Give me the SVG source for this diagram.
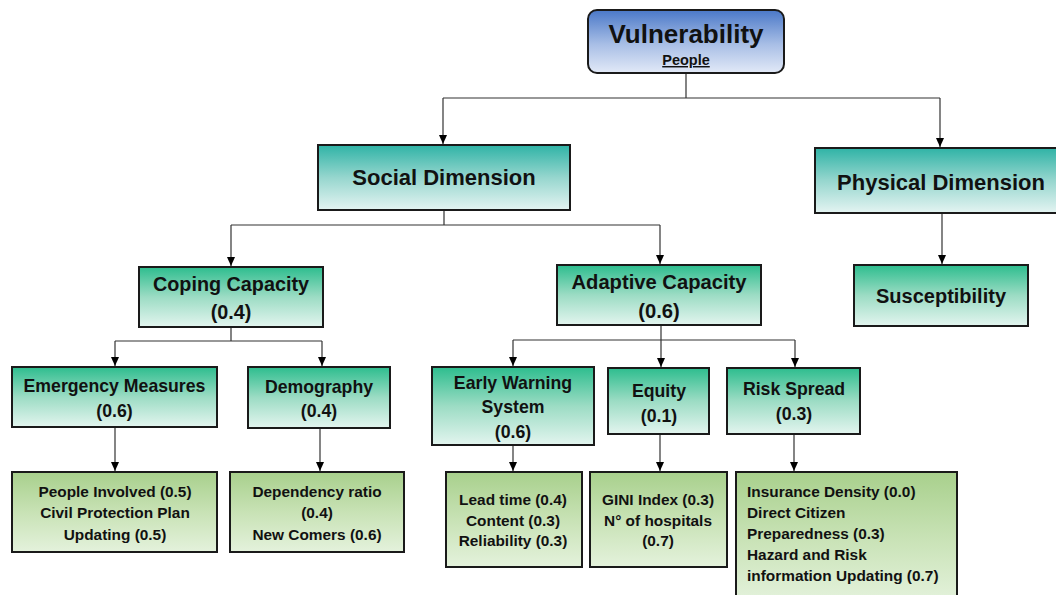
<svg xmlns="http://www.w3.org/2000/svg" width="1056" height="595" viewBox="0 0 1056 595">
<defs>
<linearGradient id="gBlue" x1="0" y1="0" x2="0" y2="1">
<stop offset="0" stop-color="#4a78c8"/><stop offset="0.55" stop-color="#a9bfe6"/><stop offset="1" stop-color="#e2e9f7"/>
</linearGradient>
<linearGradient id="gTeal" x1="0" y1="0" x2="0" y2="1">
<stop offset="0" stop-color="#2fb3a6"/><stop offset="0.5" stop-color="#96d6ce"/><stop offset="1" stop-color="#e4f4f2"/>
</linearGradient>
<linearGradient id="gGreen" x1="0" y1="0" x2="0" y2="1">
<stop offset="0" stop-color="#2dbd8e"/><stop offset="0.5" stop-color="#9cdcc4"/><stop offset="1" stop-color="#e3f5ef"/>
</linearGradient>
<linearGradient id="gLeaf" x1="0" y1="0" x2="0" y2="1">
<stop offset="0" stop-color="#a8d08c"/><stop offset="0.5" stop-color="#c8e2b5"/><stop offset="1" stop-color="#e4f2dc"/>
</linearGradient>
<marker id="arr" markerWidth="10" markerHeight="10" refX="9" refY="5" orient="auto" markerUnits="userSpaceOnUse">
<path d="M0,1 L9,5 L0,9 Z" fill="#000"/>
</marker>
</defs>
<style>
.box{stroke:#1a1a1a;stroke-width:2}
.t{font-family:"Liberation Sans",Arial,sans-serif;font-weight:bold;fill:#111;text-anchor:middle}
.tl{font-family:"Liberation Sans",Arial,sans-serif;font-weight:bold;fill:#111;font-size:15.4px}
.l1{font-size:22px}
.l2{font-size:19.8px}
.l3{font-size:17.7px}
.l4{font-size:15.4px}
.c{fill:none;stroke:#333;stroke-width:1.2}
.a{marker-end:url(#arr)}
</style>
<rect width="1056" height="595" fill="#fff"/>

<g id="connectors">
<path class="c" d="M686,73 V98 M443,98 H940"/>
<path class="c a" d="M443,98 V144"/>
<path class="c a" d="M940,98 V147"/>
<path class="c" d="M444,210 V225 M231,225 H660"/>
<path class="c a" d="M231,225 V266"/>
<path class="c a" d="M660,225 V264"/>
<path class="c" d="M231,327 V341 M115,341 H322"/>
<path class="c a" d="M115,341 V366"/>
<path class="c a" d="M322,341 V366"/>
<path class="c a" d="M115,427 V471"/>
<path class="c a" d="M320,428 V471"/>
<path class="c" d="M513,340 H795"/>
<path class="c a" d="M661,325 V367"/>
<path class="c a" d="M513,340 V366"/>
<path class="c a" d="M795,340 V367"/>
<path class="c a" d="M513,445 V471"/>
<path class="c a" d="M660,434 V471"/>
<path class="c a" d="M794,434 V471"/>
<path class="c a" d="M942,213 V264"/>
</g>

<g id="vulnerability">
<rect class="box" x="588" y="10" width="196" height="63" rx="9" fill="url(#gBlue)"/>
<text class="t" x="686" y="43" font-size="26">Vulnerability</text>
<text class="t" x="686" y="65" font-size="14.5" text-decoration="underline">People</text>
</g>

<g id="social">
<rect class="box" x="318" y="145" width="252" height="65" fill="url(#gTeal)"/>
<text class="t l1" x="444" y="185">Social Dimension</text>
</g>

<g id="physical">
<rect class="box" x="815" y="148" width="245" height="65" fill="url(#gTeal)"/>
<text class="t l1" x="941" y="190">Physical Dimension</text>
</g>

<g id="coping">
<rect class="box" x="139" y="267" width="184" height="60" fill="url(#gGreen)"/>
<text class="t l2" x="231" y="291">Coping Capacity</text>
<text class="t l2" x="231" y="319">(0.4)</text>
</g>

<g id="adaptive">
<rect class="box" x="557" y="265" width="204" height="60" fill="url(#gGreen)"/>
<text class="t" x="659" y="289" font-size="20.2">Adaptive Capacity</text>
<text class="t" x="659" y="318" font-size="20.2">(0.6)</text>
</g>

<g id="susceptibility">
<rect class="box" x="854" y="265" width="174" height="61" fill="url(#gGreen)"/>
<text class="t" x="941" y="303" font-size="20">Susceptibility</text>
</g>

<g id="emergency">
<rect class="box" x="12" y="367" width="205" height="60" fill="url(#gGreen)"/>
<text class="t l3" x="114.5" y="392">Emergency Measures</text>
<text class="t l3" x="114.5" y="417">(0.6)</text>
</g>

<g id="demography">
<rect class="box" x="248" y="367" width="142" height="61" fill="url(#gGreen)"/>
<text class="t l3" x="319" y="393">Demography</text>
<text class="t l3" x="319" y="417">(0.4)</text>
</g>

<g id="earlywarning">
<rect class="box" x="432" y="367" width="162" height="78" fill="url(#gGreen)"/>
<text class="t l3" x="513" y="389">Early Warning</text>
<text class="t l3" x="513" y="413">System</text>
<text class="t l3" x="513" y="438">(0.6)</text>
</g>

<g id="equity">
<rect class="box" x="608" y="368" width="101" height="66" fill="url(#gGreen)"/>
<text class="t l3" x="659" y="397">Equity</text>
<text class="t l3" x="659" y="422">(0.1)</text>
</g>

<g id="riskspread">
<rect class="box" x="727" y="368" width="133" height="66" fill="url(#gGreen)"/>
<text class="t l3" x="794" y="395">Risk Spread</text>
<text class="t l3" x="794" y="420">(0.3)</text>
</g>

<g id="emergency-indicators">
<rect class="box" x="12" y="472" width="205" height="80" fill="url(#gLeaf)"/>
<text class="t l4" x="115" y="497">People Involved (0.5)</text>
<text class="t l4" x="115" y="518">Civil Protection Plan</text>
<text class="t l4" x="115" y="540">Updating (0.5)</text>
</g>

<g id="demography-indicators">
<rect class="box" x="230" y="472" width="174" height="80" fill="url(#gLeaf)"/>
<text class="t l4" x="317" y="497">Dependency ratio</text>
<text class="t l4" x="317" y="518">(0.4)</text>
<text class="t l4" x="317" y="540">New Comers (0.6)</text>
</g>

<g id="earlywarning-indicators">
<rect class="box" x="446" y="472" width="136" height="95" fill="url(#gLeaf)"/>
<text class="t l4" x="513" y="505">Lead time (0.4)</text>
<text class="t l4" x="513" y="526">Content (0.3)</text>
<text class="t l4" x="513" y="546">Reliability (0.3)</text>
</g>

<g id="equity-indicators">
<rect class="box" x="590" y="472" width="137" height="95" fill="url(#gLeaf)"/>
<text class="t l4" x="658" y="505">GINI Index (0.3)</text>
<text class="t l4" x="658" y="526">N° of hospitals</text>
<text class="t l4" x="658" y="546">(0.7)</text>
</g>

<g id="riskspread-indicators">
<rect class="box" x="736" y="472" width="221" height="130" fill="url(#gLeaf)"/>
<text class="tl" x="747" y="497">Insurance Density (0.0)</text>
<text class="tl" x="747" y="518">Direct Citizen</text>
<text class="tl" x="747" y="539">Preparedness (0.3)</text>
<text class="tl" x="747" y="560">Hazard and Risk</text>
<text class="tl" x="747" y="581">information Updating (0.7)</text>
</g>
</svg>
